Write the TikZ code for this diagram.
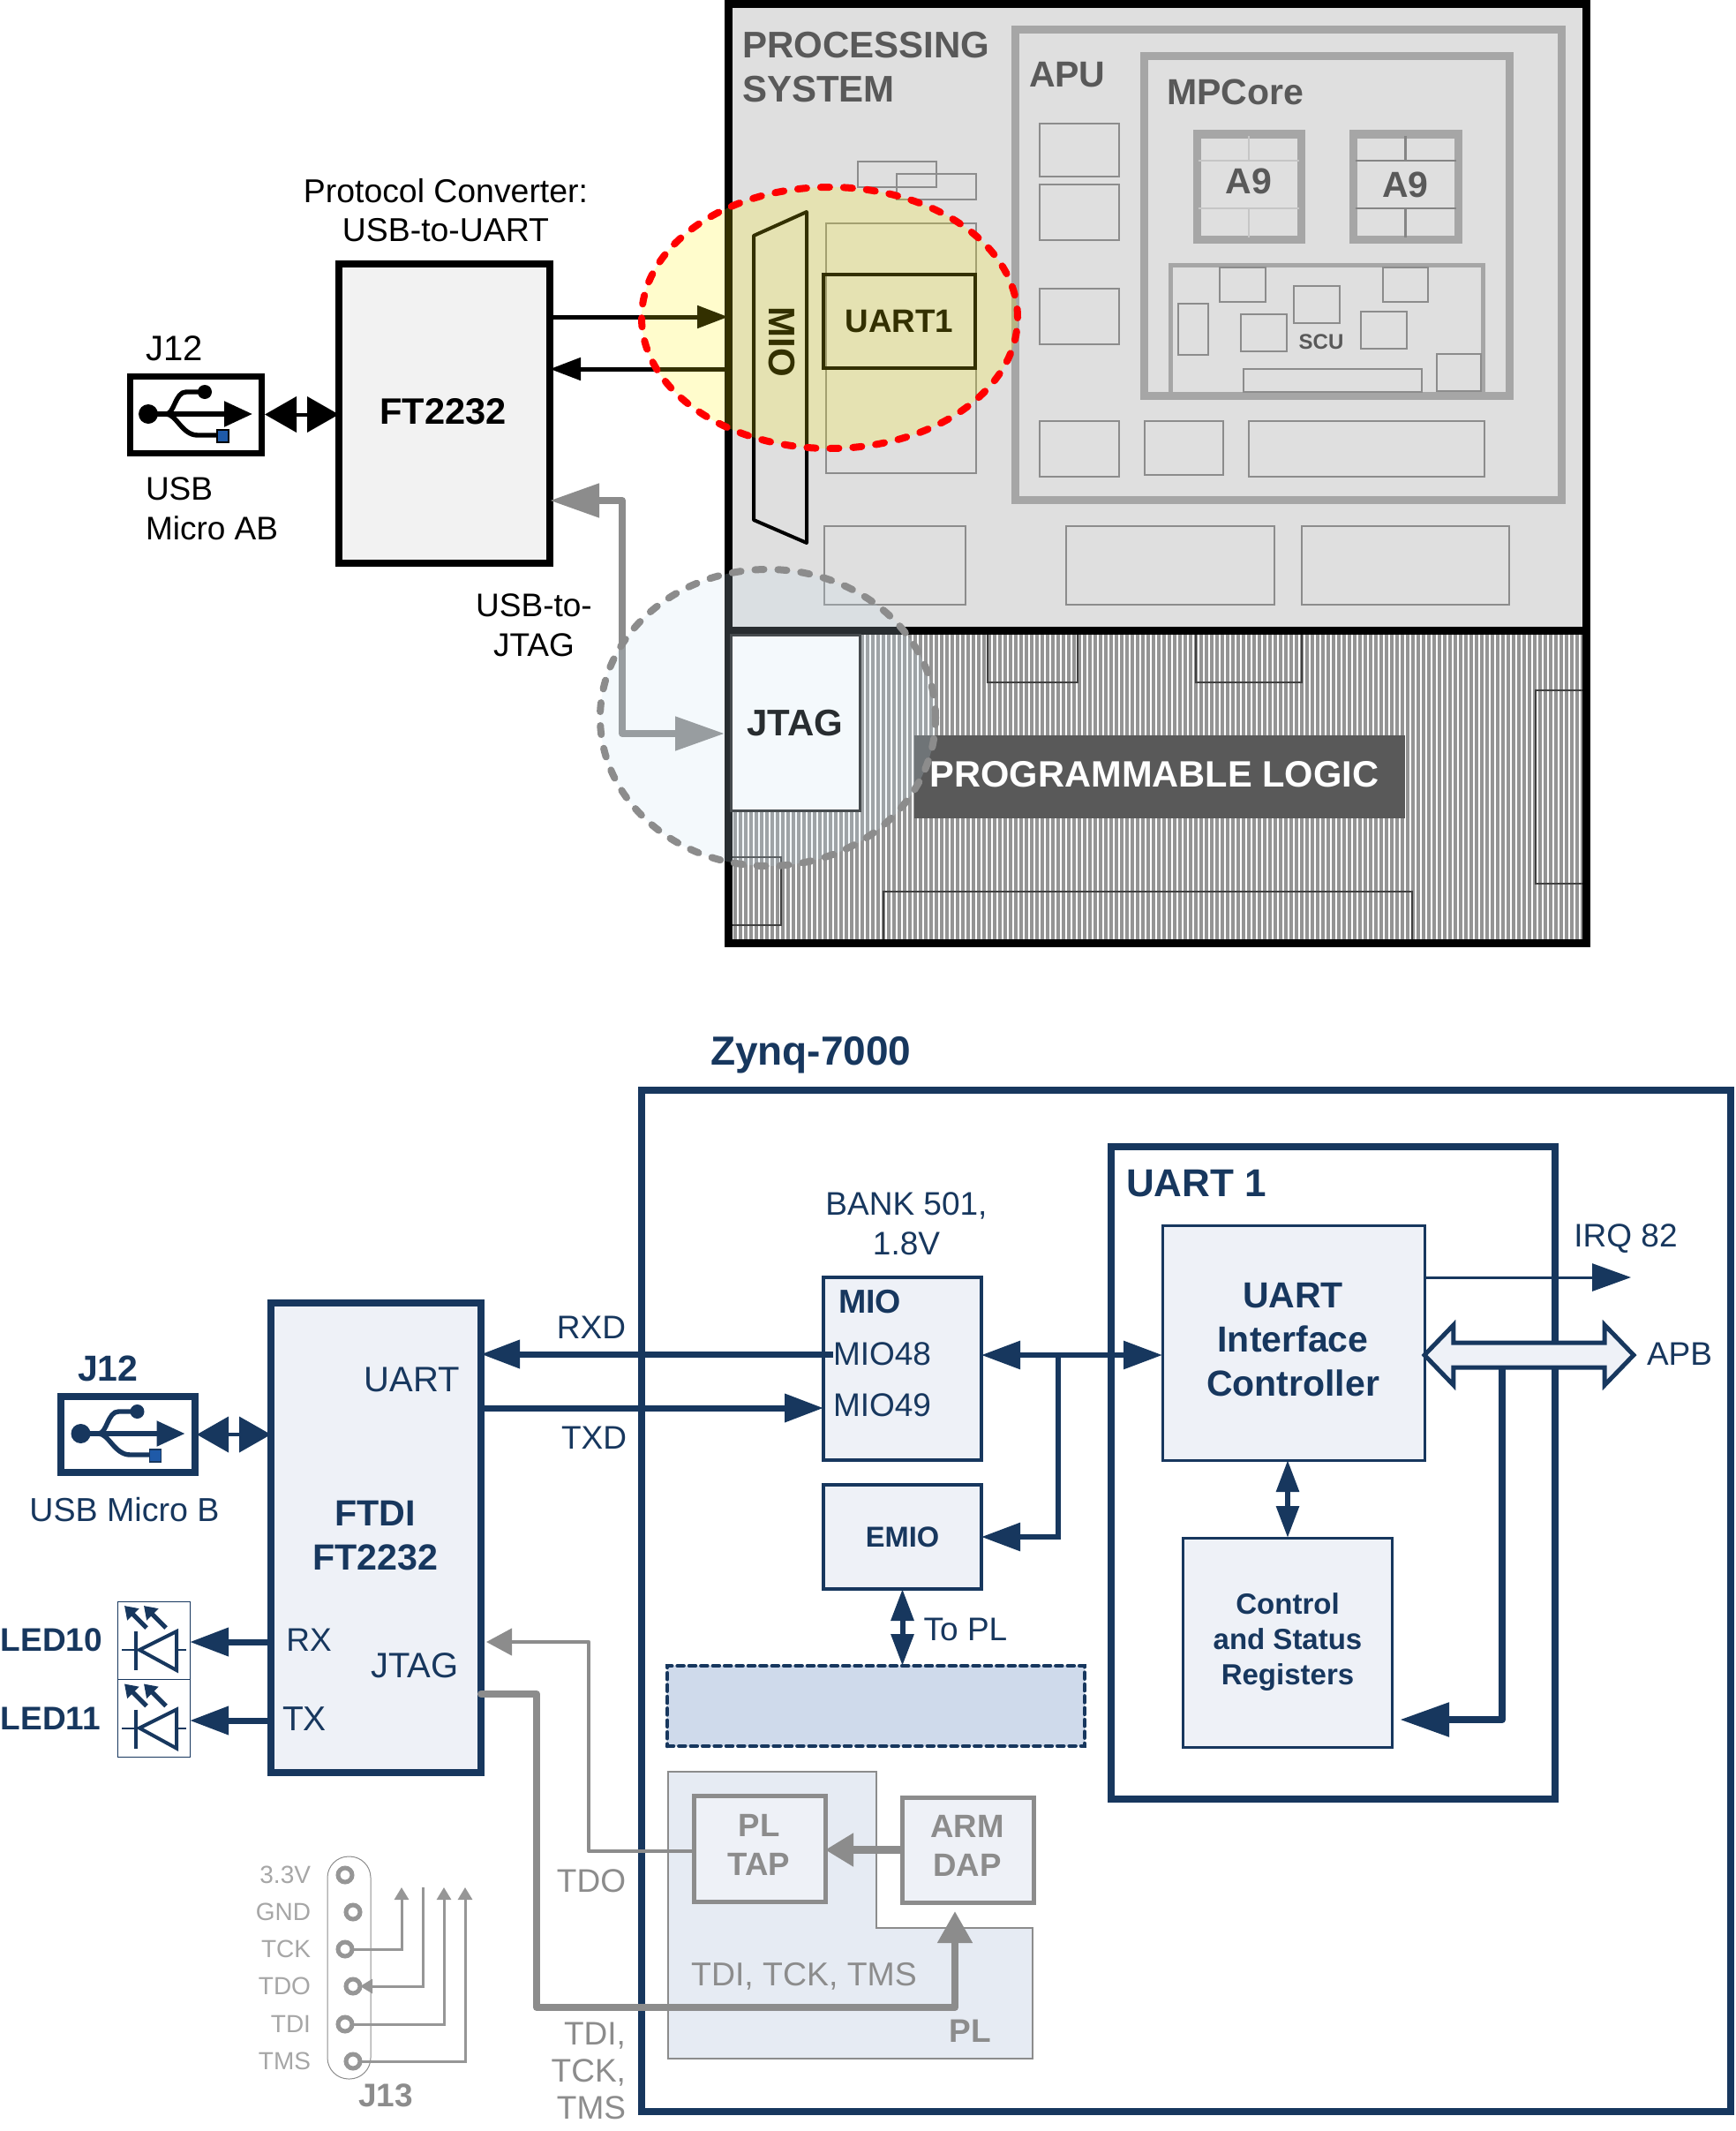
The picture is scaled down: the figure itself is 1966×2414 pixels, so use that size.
\documentclass[tikz,border=0pt]{standalone}
\usepackage{fontspec}
\setmainfont{Liberation Sans}
\usetikzlibrary{shapes.geometric,shapes.arrows,arrows.meta,calc}
\definecolor{navy}{HTML}{17375E}
\definecolor{panel}{HTML}{EEF1F7}
\definecolor{wiregray}{HTML}{8C8C8C}
\definecolor{psgray}{HTML}{DFDFDF}
\definecolor{pstext}{HTML}{595959}
\definecolor{apugray}{HTML}{A6A6A6}
\definecolor{pinbar}{HTML}{969696}
\definecolor{usbblue}{HTML}{1F5AA8}
\definecolor{jtagtint}{HTML}{C8E1F0}
\definecolor{fabtint}{HTML}{CFDAEB}
\definecolor{pltint}{HTML}{E6EBF3}
\tikzset{
  tb/.style={inner sep=0, outer sep=0},
  lab/.style={tb, align=center, font=\fontsize{18.5}{22.5}\selectfont},
  blab/.style={tb, align=center, font=\bfseries\fontsize{20.5}{24.5}\selectfont},
  smallbold/.style={tb, align=center, font=\bfseries\fontsize{18.5}{22}\selectfont},
  pinlab/.style={tb, anchor=east, text=apugray, font=\fontsize{14}{16}\selectfont},
  thinbox/.style={draw=wiregray, line width=1.2pt},
  navybox/.style={tb, draw=navy, fill=panel, line width=2pt},
  graybox/.style={tb, draw=wiregray, fill=panel, line width=2.5pt, text=wiregray},
  pin/.style={tb, circle, draw=pinbar, line width=2.5pt, minimum size=8pt},
  halo/.style={tb, ellipse, line width=4pt, line cap=round, dash pattern=on 5pt off 8pt, fill opacity=.2, draw opacity=1},
  usbtip/.style={>={Triangle[length=18pt,width=20pt]}},
  graytip/.style={>={Triangle[length=28pt,width=18.5pt]}},
  blacktip/.style={>={Triangle[length=17.5pt,width=12.5pt]}},
  navytip/.style={>={Triangle[length=22pt,width=15.5pt]}},
  duotip/.style={>={Triangle[length=18pt,width=12.5pt]}},
  pintip/.style={>={Triangle[length=7pt,width=8pt]}}
}
\newcommand{\usbsign}[3]{
  \begin{scope}[shift={(#1,#2)},#3,line width=2.7pt]
    \fill (0,0) circle (11);
    \draw[-{Triangle[length=16pt,width=14pt]}] (0,0) -- (118,0);
    \draw (20,0) .. controls (30,0) and (30,-25) .. (43,-25) -- (64,-25);
    \fill (64,-25) circle (8);
    \draw (20,0) .. controls (32,0) and (38,24) .. (56,24) -- (80,24);
    \draw[fill=usbblue, line width=.8pt] (78,18) rectangle (91,32);
  \end{scope}
}
\newcommand{\ledsign}[1]{
  \begin{scope}[yshift=-#1*0.5pt,navy,line width=2pt]
    \draw (158,1869) -- (200,1848) -- (200,1892) -- cycle;
    \draw (154,1848) -- (154,1892);
    \draw[line width=1pt] (138,1869) -- (154,1869) (200,1869) -- (211,1869);
    \draw[line width=2.5pt, -{Triangle[length=7pt,width=9pt]}] (166,1844) -- (141,1819);
    \draw[line width=2.5pt, -{Triangle[length=7pt,width=9pt]}] (188,1844) -- (163,1819);
  \end{scope}
}

\begin{document}
\begin{tikzpicture}[x=0.5pt, y=-0.5pt]
  \useasboundingbox (0,0) rectangle (1966,2414);

  % upper block: processing system
  \node (psbox) [tb, fill=psgray, minimum width=486pt, minimum height=354.5pt] at (1311,359.5) {};
  \node (plbox) [tb, fill=black!42, minimum width=486pt, minimum height=177pt] at (1311,891) {};
  \foreach \x in {830,836,...,1794}
    \draw[white, line width=.8pt] (\x,716) -- (\x,1066);
  \foreach \xa/\ya/\xb/\yb in {1119/717/1221/773, 1355/717/1475/773, 1740/782/1795/1001, 1001/1010/1600/1066, 827/971/885/1048}
    \draw[draw=black!75, line width=.8pt] (\xa,\ya) rectangle (\xb,\yb);
  \node (psframe) [tb, draw=black, line width=4.5pt, minimum width=486pt, minimum height=354.5pt] at (1311,359.5) {};
  \node (plframe) [tb, draw=black, line width=4.5pt, minimum width=486pt, minimum height=177pt] at (1311,891) {};

  \node (pstitle) [tb, anchor=west, align=left, text=pstext, font=\bfseries\fontsize{21}{25}\selectfont] at (841,76) {PROCESSING\\SYSTEM};
  \node (apu) [tb, draw=apugray, line width=4.5pt, minimum width=309.5pt, minimum height=266pt] at (1459.5,300) {};
  \node (apulab) [blab, anchor=west, text=pstext] at (1166,85) {APU};
  \node (mpcore) [tb, draw=apugray, line width=4.5pt, minimum width=207pt, minimum height=192pt] at (1503.5,256) {};
  \node (mpcorelab) [blab, anchor=west, text=pstext] at (1322,104) {MPCore};
  \node (scu) [tb, draw=apugray, line width=2.5pt, minimum width=177pt, minimum height=73pt] at (1503.5,373) {};
  \node (sculab) [tb, text=pstext, font=\bfseries\fontsize{12}{14}\selectfont] at (1497,387) {SCU};

  \foreach \xa/\ya/\xb/\yb in {1178/140/1268/200, 1178/209/1268/272, 1178/327/1268/390, 1178/477/1268/540,
      1297/477/1386/538, 1415/477/1682/540, 1382/303/1434/342, 1567/303/1618/342, 1466/324/1518/366,
      1335/344/1369/402, 1406/356/1458/398, 1542/353/1594/395, 1628/401/1678/443, 1409/418/1611/444,
      972/183/1061/212, 1016/197/1106/226, 936/253/1106/536, 934/596/1094/685, 1208/596/1444/685, 1475/596/1710/685}
    \draw[thinbox] (\xa,\ya) rectangle (\xb,\yb);

  % the two cores
  \node (a9left) [tb, draw=apugray, line width=4.5pt, minimum width=59pt, minimum height=59.5pt] at (1415,211.5) {};
  \node (a9right) [tb, draw=apugray, line width=4.5pt, minimum width=59.5pt, minimum height=59.5pt] at (1592.5,211.5) {};
  \foreach \cx/\cc in {1415/gray!45, 1592.5/wiregray!95!black}
    \draw[\cc, line width=1.2pt] (\cx,154) -- (\cx,182) (\cx-57,182) -- (\cx+57,182)
      (\cx-57,236) -- (\cx+57,236) (\cx,236) -- (\cx,269);
  \node (a9leftlab) [blab, text=pstext] at (1415,205) {A9};
  \node (a9rightlab) [blab, text=pstext] at (1592.5,209) {A9};

  % MIO and UART1 inside the system
  \node (miolab) [tb, rotate=-90, font=\bfseries\fontsize{21}{24}\selectfont] at (886,387) {MIO};
  \draw[line width=2pt, line join=round] (854,267) -- (914,240) -- (914,615) -- (854,589) -- cycle;
  \node (uartone) [tb, draw=black, line width=2pt, minimum width=86pt, minimum height=53pt, font=\bfseries\fontsize{18.4}{22}\selectfont] at (1019,364) {UART1};
  \node (jtagbox) [tb, draw=black!85, fill=white, line width=1.5pt, minimum width=73pt, minimum height=99.5pt, font=\bfseries\fontsize{21}{24}\selectfont] at (901,819) {JTAG};
  \node (pllab) [tb, fill=pstext, text=white, minimum width=278pt, minimum height=47pt, font=\bfseries\fontsize{20.8}{24}\selectfont] at (1314,880) {};
  \node (pltext) [tb, text=white, font=\bfseries\fontsize{20.8}{24}\selectfont] at (1308,877) {PROGRAMMABLE LOGIC};

  % converter on the left
  \node (ftconv) [tb, draw=black, fill=black!5, line width=4pt, minimum width=119.5pt, minimum height=169.5pt] at (503.5,468.5) {};
  \node (ftconvlab) [tb, font=\bfseries\fontsize{20.8}{24}\selectfont] at (502,466) {FT2232};
  \node (usbtop) [tb, draw=black, fill=white, line width=3.5pt, minimum width=74.5pt, minimum height=43.5pt] at (221.5,469.5) {};
  \usbsign{168}{469}{black}
  \node (convlab) [lab, font=\fontsize{18.7}{22}\selectfont] at (505,238.5) {Protocol Converter:\\USB-to-UART};
  \node (jtoplab) [tb, anchor=west, font=\fontsize{20}{24}\selectfont] at (165,395) {J12};
  \node (usbtoplab) [lab, anchor=west, align=left] at (165,576) {USB\\Micro AB};
  \node (ujlab) [lab] at (605,708) {USB-to-\\JTAG};

  \draw[usbtip, <->, line width=2pt] (usbtop.east) ++(4,0) -- (ftconv.west |- usbtop.east);
  \draw[blacktip, ->, line width=2.5pt] (ftconv.east |- 0,359) -- (psframe.west |- 0,359);
  \draw[blacktip, ->, line width=2.5pt] (psframe.west |- 0,418) -- (ftconv.east |- 0,418);
  \coordinate (jtagin) at (821,831);
  \draw[graytip, <->, line width=4pt, wiregray, line join=round] (ftconv.east |- 0,567) -- (705,567) -- (705,831) -- (jtagin);

  \node (uarthalo) [halo, draw=red, fill=yellow, minimum width=213pt, minimum height=148pt] at (940,360) {};
  \node (jtaghalo) [halo, draw=wiregray, fill=jtagtint, minimum width=190pt, minimum height=168pt] at (870,813) {};

  % lower block
  \node (zynqlab) [tb, anchor=west, text=navy, font=\bfseries\fontsize{23}{27}\selectfont] at (805,1195) {Zynq-7000};
  \node (zynq) [tb, draw=navy, line width=4pt, minimum width=617pt, minimum height=578.5pt] at (1344,1813.5) {};
  \node (uartblk) [tb, draw=navy, line width=4pt, minimum width=251.5pt, minimum height=369.5pt] at (1510.5,1668.5) {};
  \node (uartlab) [tb, anchor=west, text=navy, font=\bfseries\fontsize{22}{26}\selectfont] at (1276,1341) {UART 1};
  \node (uic) [navybox, line width=1.5pt, minimum width=148.5pt, minimum height=133pt] at (1465.5,1521) {};
  \node (uiclab) [tb, text=navy, align=center, font=\bfseries\fontsize{20.5}{25}\selectfont] at (1465,1518) {UART\\Interface\\Controller};
  \node (csr) [navybox, line width=1.5pt, text=navy, align=center, minimum width=118.5pt, minimum height=118.5pt, font=\bfseries\fontsize{16.5}{20}\selectfont] at (1459,1860.5) {Control\\and Status\\Registers};

  \node (miobox) [navybox, minimum width=89.5pt, minimum height=103.5pt] at (1022.5,1550.5) {};
  \node (miolabb) [tb, anchor=west, text=navy, font=\bfseries\fontsize{18.8}{22}\selectfont] at (950,1475) {MIO};
  \node (mio48) [lab, anchor=west, text=navy] at (944,1534) {MIO48};
  \node (mio49) [lab, anchor=west, text=navy] at (944,1592) {MIO49};
  \node (banklab) [lab, text=navy] at (1027,1386) {BANK 501,\\1.8V};
  \node (emio) [navybox, text=navy, minimum width=89.5pt, minimum height=59pt, font=\bfseries\fontsize{16.3}{20}\selectfont] at (1022.5,1741) {EMIO};
  \node (plfab) [tb, draw=navy, fill=fabtint, line width=2.3pt, dash pattern=on 3.5pt off 3.2pt, line cap=round, minimum width=236.5pt, minimum height=45.5pt] at (992.5,1932.5) {};
  \node (topl) [lab, text=navy] at (1094,1846) {To PL};

  \node (ftdi) [navybox, line width=4pt, minimum width=119pt, minimum height=266pt] at (426,1742) {};
  \node (ftdilab) [tb, align=center, text=navy, font=\bfseries\fontsize{20.6}{25}\selectfont] at (425,1740) {FTDI\\FT2232};
  \node (uartpin) [tb, text=navy, font=\fontsize{20}{24}\selectfont] at (467,1563) {UART};
  \node (jtagpin) [tb, text=navy, font=\fontsize{20}{24}\selectfont] at (470,1887) {JTAG};
  \node (rxpin) [lab, text=navy] at (350,1858) {RX};
  \node (txpin) [tb, text=navy, font=\fontsize{19.5}{24}\selectfont] at (345,1947) {TX};
  \node (rxdlab) [lab, text=navy] at (670,1504) {RXD};
  \node (txdlab) [lab, text=navy] at (673,1629) {TXD};
  \node (jbotlab) [blab, anchor=west, text=navy] at (88,1550) {J12};
  \node (usbbot) [tb, draw=navy, fill=white, line width=4pt, minimum width=76pt, minimum height=43pt] at (145,1625) {};
  \usbsign{91.5}{1624}{navy}
  \node (usbbotlab) [lab, text=navy, font=\fontsize{18.8}{22}\selectfont] at (141,1710) {USB Micro B};

  \node (ledten) [tb, draw=navy, line width=.5pt, minimum width=41pt, minimum height=44pt] at (174,1858) {};
  \node (ledelev) [tb, draw=navy, line width=.5pt, minimum width=41pt, minimum height=44pt] at (174,1946) {};
  \ledsign{0}
  \ledsign{88.5}
  \node (ledtenlab) [tb, anchor=west, text=navy, font=\bfseries\fontsize{18.5}{22}\selectfont] at (1,1858) {LED10};
  \node (ledelevlab) [tb, anchor=west, text=navy, font=\bfseries\fontsize{18.5}{22}\selectfont] at (1,1947) {LED11};

  % PL part with the debug blocks
  \path[fill=pltint, draw=wiregray, line width=1.3pt] (757,2007) -- (993,2007) -- (993,2184) -- (1170,2184) -- (1170,2332) -- (757,2332) -- cycle;
  \node (pltap) [graybox, minimum width=74.5pt, minimum height=60pt] at (860.5,2094) {};
  \node (pltaplab) [tb, align=center, text=wiregray, font=\bfseries\fontsize{18.3}{22}\selectfont] at (860,2090) {PL\\TAP};
  \node (armdap) [graybox, minimum width=74.5pt, minimum height=59.5pt] at (1096.5,2095.5) {};
  \node (armdaplab) [tb, align=center, text=wiregray, font=\bfseries\fontsize{18.3}{22}\selectfont] at (1096,2091) {ARM\\DAP};
  \node (tdilab) [tb, text=wiregray, font=\fontsize{18.7}{22}\selectfont] at (911,2239) {TDI, TCK, TMS};
  \node (plcorner) [smallbold, text=wiregray] at (1099,2301) {PL};
  \node (tdolab) [lab, text=wiregray] at (670,2131) {TDO};
  \node (tdilist) [lab, anchor=east, align=right, text=wiregray, font=\fontsize{18.5}{21}\selectfont] at (709,2346) {TDI,\\TCK,\\TMS};

  % UART wiring
  \coordinate (wirejoin) at (1199,1535);
  \draw[navytip, ->, line width=3.5pt, navy] (mio48.west) -- (ftdi.east |- mio48.west);
  \draw[navytip, ->, line width=3.5pt, navy] (ftdi.east |- 0,1595) -- (miobox.west |- 0,1595);
  \draw[navytip, <->, line width=3pt, navy] (miobox.east |- wirejoin) -- (uic.west |- wirejoin);
  \draw[navytip, ->, line width=3pt, navy] (wirejoin) |- (emio.east);
  \draw[duotip, <->, line width=3pt, navy] (uic.south -| csr.north) -- (csr.north);
  \draw[duotip, <->, line width=3pt, navy] (emio.south) -- (plfab.north -| emio.south);
  \draw[usbtip, <->, line width=2pt, navy] (usbbot.east) ++(2,0) -- (ftdi.west |- usbbot.east);
  \draw[navytip, ->, line width=3.5pt, navy] (ftdi.west |- 0,1860) -- (ledten.east |- 0,1860);
  \draw[navytip, ->, line width=3.5pt, navy] (ftdi.west |- 0,1949) -- (ledelev.east |- 0,1949);

  \coordinate (irqend) at (1848,1447);
  \draw[navytip, ->, line width=1.5pt, navy] (uic.east |- irqend) -- (irqend);
  \node (irqlab) [lab, text=navy] at (1842,1403) {IRQ 82};
  \node (apbbus) [tb, double arrow, draw=navy, fill=panel, line width=2.5pt, inner ysep=5.75pt, minimum height=118.5pt, minimum width=34pt, double arrow head extend=10pt, double arrow tip angle=92] at (1732.5,1535) {};
  \node (apblab) [lab, text=navy] at (1903,1534) {APB};
  \coordinate (busfoot) at (1702,1549);
  \coordinate (csrin) at (1586,1948);
  \draw[graytip, ->, line width=4.3pt, navy, line join=round] (busfoot) |- (csrin);

  % JTAG wiring
  \coordinate (tdoend) at (551,1860);
  \coordinate (tdiend) at (1082,2165);
  \draw[>={Triangle[length=14.5pt,width=15pt]}, ->, line width=2.2pt, wiregray, line join=round] (pltap.west |- 0,2097) -- (667,2097) -- (667,1860) -- (tdoend);
  \draw[>={Triangle[length=18pt,width=19pt]}, ->, line width=4pt, wiregray, line join=round, line cap=round] (ftdi.east |- 0,1919) -- (608,1919) -- (608,2274) -- (1082,2274) -- (tdiend);
  \draw[>={Triangle[length=16pt,width=18pt]}, ->, line width=4.5pt, wiregray] (armdap.west) -- (pltap.east |- armdap.west);

  % header J13
  \node (j13) [tb, draw=wiregray, line width=.5pt, rounded corners=12pt, minimum width=24.5pt, minimum height=126pt] at (395.5,2229) {};
  \node (j13lab) [smallbold, text=wiregray] at (437,2374) {J13};
  \foreach \nm/\lb/\px/\py in {a/3.3V/391/2124, b/GND/400/2166, c/TCK/391/2208, d/TDO/400/2250, e/TDI/391/2293, f/TMS/400/2335} {
    \node (pin\nm) [pin] at (\px,\py) {};
    \node (lab\nm) [pinlab] at (352,\py) {\lb};
  }
  \draw[pintip, ->, line width=1.5pt, pinbar] (pinc.east) -| (455,2138);
  \draw[pintip, ->, line width=1.5pt, pinbar] (479,2138) |- (pind.east);
  \draw[pintip, ->, line width=1.5pt, pinbar] (pine.east) -| (503,2138);
  \draw[pintip, ->, line width=1.5pt, pinbar] (pinf.east) -| (527,2138);
\end{tikzpicture}
\end{document}
